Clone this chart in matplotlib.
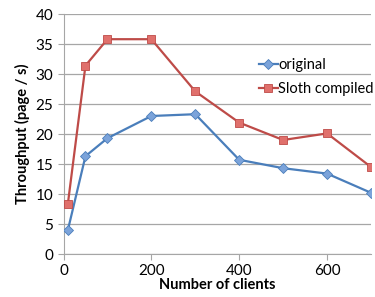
import matplotlib.pyplot as plt

clients = [10, 50, 100, 200, 300, 400, 500, 600, 700]
original = [4.0, 16.3, 19.3, 23.0, 23.3, 15.7, 14.3, 13.4, 10.2]
sloth = [8.4, 31.4, 35.8, 35.8, 27.1, 21.9, 19.0, 20.1, 14.5]

plt.rcParams['font.family'] = ['Lato', 'DejaVu Sans']

fig = plt.figure(figsize=(3.75, 2.97), dpi=100)
ax = fig.add_axes([63.5 / 375, 1 - 254 / 297, (371 - 63.5) / 375, (254 - 14) / 297])

ax.plot(clients, original, color='#4A7EBB', lw=1.6, marker='D', ms=5,
        mfc='#7BA3DA', mec='#4A7EBB', mew=0.6, label='original', zorder=3)
ax.plot(clients, sloth, color='#BE4B48', lw=1.6, marker='s', ms=6,
        mfc='#E0706C', mec='#BE4B48', mew=0.6, label='Sloth compiled', zorder=3)

ax.set_xlim(0, 700)
ax.set_ylim(0, 40)
ax.set_xticks([0, 200, 400, 600])
ax.set_yticks(range(0, 41, 5))
ax.yaxis.grid(True, color='#A6A6A6', lw=0.9)
ax.set_axisbelow(True)
for s in ['top', 'right']:
    ax.spines[s].set_visible(False)
for s in ['left', 'bottom']:
    ax.spines[s].set_color('#A6A6A6')
ax.tick_params(axis='both', labelsize=11, colors='#A6A6A6', labelcolor='black')
ax.tick_params(axis='y', length=4)
ax.tick_params(axis='x', length=4)

ax.set_xlabel('Number of clients', fontsize=10.5, fontweight='bold', labelpad=0)
ax.set_ylabel('Throughput (page / s)', fontsize=10.5, fontweight='bold', labelpad=4)

ax.legend(loc='upper left', bbox_to_anchor=(0.635, 0.818), frameon=False,
          fontsize=10.5, handlelength=1.3, handletextpad=0.05, labelspacing=0.72,
          borderaxespad=0, borderpad=0)

fig.savefig('out.png', dpi=100)
